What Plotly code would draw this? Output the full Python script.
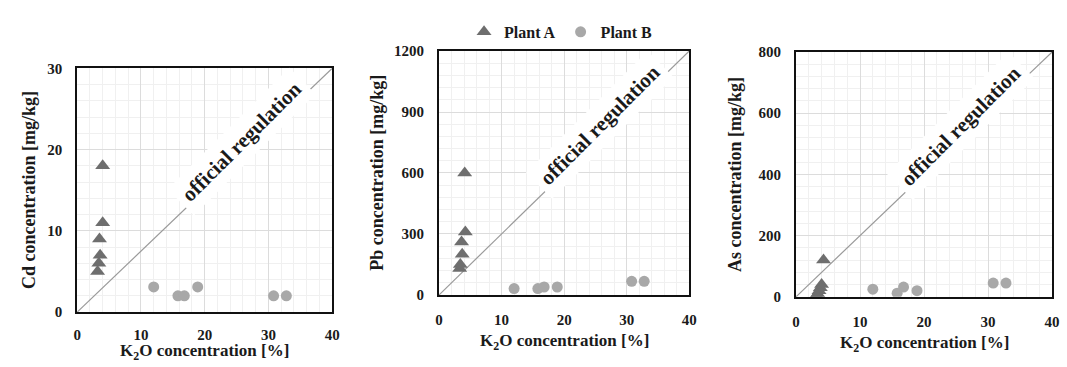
import plotly.graph_objects as go

# K2O concentration [%] and heavy-metal concentration [mg/kg] per sample
plant_a_k2o_cd = [4.0, 4.0, 3.5, 3.6, 3.4, 3.2]
plant_a_cd = [18, 11, 9, 7, 6, 5]
plant_a_k2o_pb = [4.1, 4.2, 3.6, 3.7, 3.4, 3.3]
plant_a_pb = [600, 310, 260, 200, 150, 130]
plant_a_k2o_as = [4.3, 4.0, 3.8, 3.6, 3.4, 3.2]
plant_a_as = [120, 40, 30, 20, 10, 5]

plant_b_k2o = [12.0, 15.8, 16.8, 18.9, 30.8, 32.8]
plant_b_cd = [3.1, 2.0, 2.0, 3.1, 2.0, 2.0]
plant_b_pb = [31, 31, 39, 39, 67, 67]
plant_b_as = [25, 12, 32, 20, 45, 45]

x_range = [0, 40]
x_ticks = [0, 10, 20, 30, 40]
panels = [
    dict(name="Cd", a_x=plant_a_k2o_cd, a_y=plant_a_cd, b_y=plant_b_cd,
         y_max=30, y_dtick=10, y_minor=2),
    dict(name="Pb", a_x=plant_a_k2o_pb, a_y=plant_a_pb, b_y=plant_b_pb,
         y_max=1200, y_dtick=300, y_minor=60),
    dict(name="As", a_x=plant_a_k2o_as, a_y=plant_a_as, b_y=plant_b_as,
         y_max=800, y_dtick=200, y_minor=40),
]

W, H = 1067, 367
# plot-area boxes in pixels: left, right, top, bottom
boxes = [(74, 332, 63, 318), (440, 693, 45, 300), (801, 1060, 46, 302)]
ytitle_offset = [49, 63, 61]
xtitle_gap = [28, 36, 36]

FONT = "Liberation Serif"
INK = "#1a1a1a"
COL_A = "#6e6e6e"
COL_B = "#a8a8a8"

fig = go.Figure()
layout = dict(
    width=W, height=H, margin=dict(l=0, r=0, t=0, b=0),
    paper_bgcolor="white", plot_bgcolor="white",
    font=dict(family=FONT, color=INK),
    showlegend=True,
    legend=dict(orientation="h", x=0.528, xanchor="center", y=1 - 25 / H,
                yanchor="middle",
                font=dict(family=FONT, size=16, color=INK, weight="bold"),
                itemwidth=30, tracegroupgap=0, bgcolor="rgba(0,0,0,0)",
                traceorder="reversed"),
)
annotations = []

for i, (p, (l, r, t, b)) in enumerate(zip(panels, boxes)):
    n = "" if i == 0 else str(i + 1)
    xa, ya = "x" + n, "y" + n
    xdom = [l / W, r / W]
    ydom = [1 - b / H, 1 - t / H]

    # 1:1 regulation limit line
    fig.add_trace(go.Scatter(
        x=x_range, y=[0, p["y_max"]], xaxis=xa, yaxis=ya, mode="lines",
        line=dict(color="#9a9a9a", width=1.2), showlegend=False, hoverinfo="skip"))
    fig.add_trace(go.Scatter(
        x=plant_b_k2o, y=p["b_y"], xaxis=xa, yaxis=ya, mode="markers",
        name="Plant B", legendgroup="B", showlegend=(i == 0),
        marker=dict(symbol="circle", size=11, color=COL_B)))
    fig.add_trace(go.Scatter(
        x=p["a_x"], y=p["a_y"], xaxis=xa, yaxis=ya, mode="markers",
        name="Plant A", legendgroup="A", showlegend=(i == 0),
        marker=dict(symbol="triangle-up", size=13, color=COL_A)))

    grid = dict(showgrid=True, gridcolor="#dcdcdc", gridwidth=1,
                showline=True, linecolor="#111111", linewidth=2, mirror=True,
                zeroline=False, ticks="",
                tickfont=dict(family=FONT, size=15, color=INK, weight="bold"))
    layout["xaxis" + n] = dict(
        domain=xdom, range=x_range, tickvals=x_ticks, anchor=ya,
        ticklabelstandoff=8 if i == 0 else 10,
        minor=dict(dtick=2, showgrid=True, gridcolor="#f0f0f0", gridwidth=1),
        **grid)
    layout["yaxis" + n] = dict(
        domain=ydom, range=[0, p["y_max"]], dtick=p["y_dtick"], anchor=xa,
        ticklabelstandoff=10,
        minor=dict(dtick=p["y_minor"], showgrid=True, gridcolor="#f0f0f0", gridwidth=1),
        **grid)

    # label along the regulation line
    xm = 26.8
    annotations.append(dict(
        x=xm, y=xm / 40 * p["y_max"], xref=xa, yref=ya, text="<b>official regulation</b>",
        showarrow=False, textangle=-45, xshift=-7, yshift=7, bgcolor="white",
        borderpad=6, font=dict(family=FONT, size=21, color=INK)))

    # axis titles
    annotations.append(dict(
        x=(l + r) / 2 / W, y=1 - (b + xtitle_gap[i]) / H, xref="paper", yref="paper",
        text="<b>K<sub>2</sub>O concentration [%]</b>", showarrow=False,
        xanchor="center", yanchor="top",
        font=dict(family=FONT, size=17, color=INK)))
    annotations.append(dict(
        x=(l - ytitle_offset[i]) / W, y=1 - (t + b) / 2 / H, xref="paper", yref="paper",
        text=f"<b>{p['name']} concentration [mg/kg]</b>", showarrow=False,
        textangle=-90, xanchor="center", yanchor="middle",
        font=dict(family=FONT, size=18, color=INK)))

layout["annotations"] = annotations
fig.update_layout(**layout)
fig.write_html("out.html")
